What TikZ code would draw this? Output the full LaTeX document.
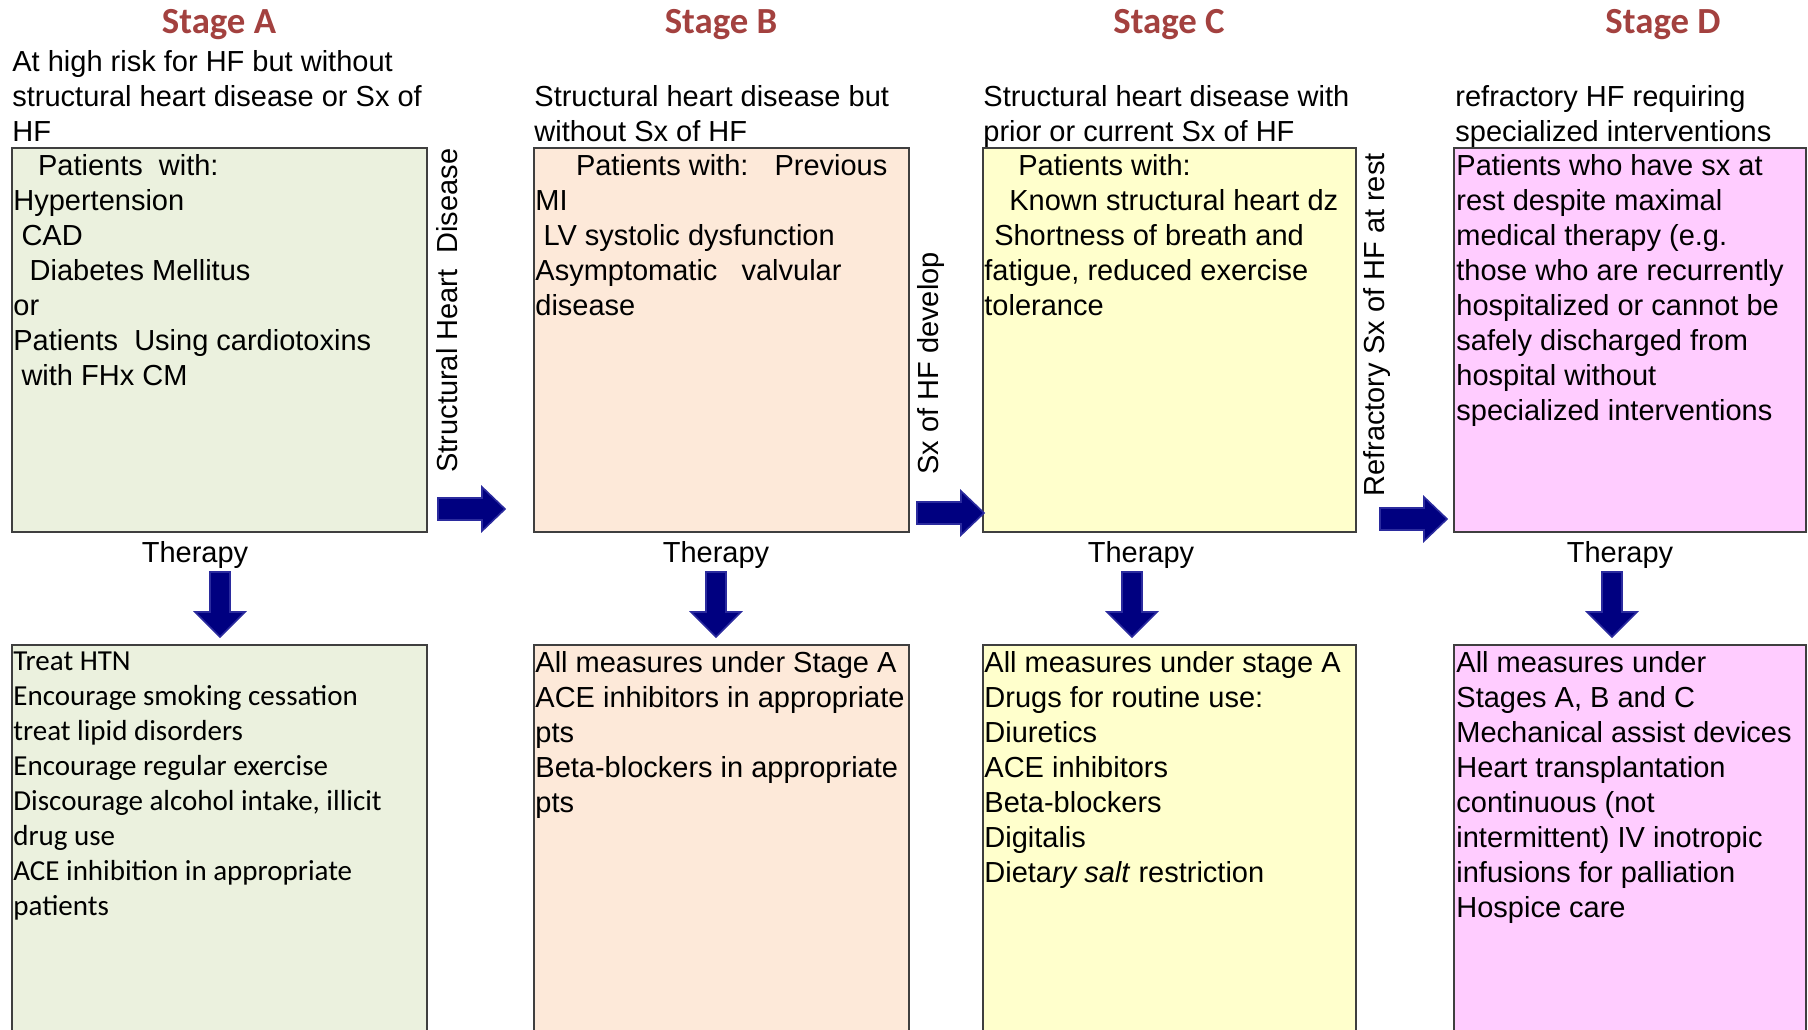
\documentclass[tikz,border=0pt]{standalone}
\usepackage{fontspec}
\setmainfont{Liberation Sans}
\newfontfamily\calfont{Carlito}
\usepackage{xcolor}
\usepackage{tikz}

\definecolor{stagered}{HTML}{A3413F}
\definecolor{fillA}{HTML}{EBF1DE}
\definecolor{fillB}{HTML}{FDE9D9}
\definecolor{fillC}{HTML}{FFFFCC}
\definecolor{fillD}{HTML}{FFCCFF}
\definecolor{arrowfill}{HTML}{000080}
\definecolor{arrowedge}{HTML}{2B2B9E}
\definecolor{boxedge}{HTML}{3F3F3F}

\tikzset{
  stagetitle/.style={font=\calfont\bfseries\fontsize{18.4}{22}\selectfont, text=stagered, inner sep=0pt, anchor=base},
  lbl/.style={font=\fontsize{14.5}{17.5}\selectfont, inner sep=0pt, anchor=base},
  % multi-line text: the given point is the first baseline
  txt/.style={font=\fontsize{14.5}{17.5}\selectfont, align=left, inner sep=0pt, anchor=north west, yshift=10.25pt, execute at begin node=\strut},
  caltxt/.style={txt, font=\calfont\fontsize{14.5}{17.5}\selectfont},
  box/.style={draw=boxedge, line width=0.75pt},
  blockarrow/.style={fill=arrowfill, draw=arrowedge, line width=0.8pt},
}

\begin{document}
\begin{tikzpicture}[x=0.5pt, y=-0.5pt]
    \useasboundingbox (0,0) rectangle (1808,1029);

    % Stage titles
    \node[stagetitle] (titleA) at (219,33) {Stage A};
    \node[stagetitle] (titleB) at (721,33) {Stage B};
    \node[stagetitle] (titleC) at (1169,33) {Stage C};
    \node[stagetitle] (titleD) at (1663,33) {Stage D};

    % Stage descriptions
    \node[txt] (headA) at (12,71) {At high risk for HF but without\\structural heart disease or Sx of\\HF};
    \node[txt] (headB) at (534,106) {Structural heart disease but\\without Sx of HF};
    \node[txt] (headC) at (983,106) {Structural heart disease with\\prior or current Sx of HF};
    \node[txt] (headD) at (1455,106) {refractory HF requiring\\specialized interventions};

    % Patient boxes
    \draw[box, fill=fillA] (12,148) rectangle (427,532);
    \draw[box, fill=fillB] (534,148) rectangle (909,532);
    \draw[box, fill=fillC] (983,148) rectangle (1356,532);
    \draw[box, fill=fillD] (1454,148) rectangle (1806,532);

    \node[txt] (patA) at (13,175) {\hspace*{0.85em}Patients\ \ with:\\Hypertension\\\hspace*{0.28em}CAD\\\hspace*{0.56em}Diabetes Mellitus\\or\\Patients\ \ Using cardiotoxins\\\hspace*{0.28em}with FHx CM};
    \node[txt] (patB) at (535,175) {\hspace*{1.4em}Patients with:\hspace{0.9em}Previous\\MI\\\hspace*{0.28em}LV systolic dysfunction\\Asymptomatic\hspace{0.83em}valvular\\disease};
    \node[txt] (patC) at (984,175) {\hspace*{1.17em}Patients with:\\\hspace*{0.86em}Known structural heart dz\\\hspace*{0.34em}Shortness of breath and\\fatigue, reduced exercise\\tolerance};
    \node[txt] (patD) at (1456,175) {Patients who have sx at\\rest despite maximal\\medical therapy (e.g.\\those who are recurrently\\hospitalized or cannot be\\safely discharged from\\hospital without\\specialized interventions};

    % Transitions between stages
    \node[lbl, rotate=90, anchor=base west] (toB) at (457,473) {Structural Heart\ \ Disease};
    \node[lbl, rotate=90, anchor=base west] (toC) at (938,475) {Sx of HF develop};
    \node[lbl, rotate=90, anchor=base west] (toD) at (1384,497) {Refractory Sx of HF at rest};

    \draw[blockarrow] (438,498) -- ++(44,0) -- ++(0,-11) -- ++(23,22) -- ++(-23,22) -- ++(0,-11) -- ++(-44,0) -- cycle;
    \draw[blockarrow] (917,502) -- ++(44,0) -- ++(0,-11) -- ++(23,22) -- ++(-23,22) -- ++(0,-11) -- ++(-44,0) -- cycle;
    \draw[blockarrow] (1380,508) -- ++(44,0) -- ++(0,-11) -- ++(23,22) -- ++(-23,22) -- ++(0,-11) -- ++(-44,0) -- cycle;

    % Therapy
    \node[lbl] (therA) at (195,562) {Therapy};
    \node[lbl] (therB) at (716,562) {Therapy};
    \node[lbl] (therC) at (1141,562) {Therapy};
    \node[lbl] (therD) at (1620,562) {Therapy};

    \foreach \cx in {220,716,1132,1612}
        \draw[blockarrow] (\cx-10,572) -- ++(20,0) -- ++(0,40) -- ++(15,0) -- ++(-25,25) -- ++(-25,-25) -- ++(15,0) -- cycle;

    % Therapy boxes (run off the bottom)
    \draw[box, fill=fillA] (12,645) rectangle (427,1045);
    \draw[box, fill=fillB] (534,645) rectangle (909,1045);
    \draw[box, fill=fillC] (983,645) rectangle (1356,1045);
    \draw[box, fill=fillD] (1454,645) rectangle (1806,1045);

    \node[caltxt] (rxA) at (13,672) {Treat HTN\\Encourage smoking cessation\\treat lipid disorders\\Encourage regular exercise\\Discourage alcohol intake, illicit\\drug use\\ACE inhibition in appropriate\\patients};
    \node[txt] (rxB) at (535,672) {All measures under Stage A\\ACE inhibitors in appropriate\\pts\\Beta-blockers in appropriate\\pts};
    \node[txt] (rxC) at (984,672) {All measures under stage A\\Drugs for routine use:\\Diuretics\\ACE inhibitors\\Beta-blockers\\Digitalis\\Dieta\textit{ry salt} restriction};
    \node[txt] (rxD) at (1456,672) {All measures under\\Stages A, B and C\\Mechanical assist devices\\Heart transplantation\\continuous (not\\intermittent) IV inotropic\\infusions for palliation\\Hospice care};
\end{tikzpicture}
\end{document}
